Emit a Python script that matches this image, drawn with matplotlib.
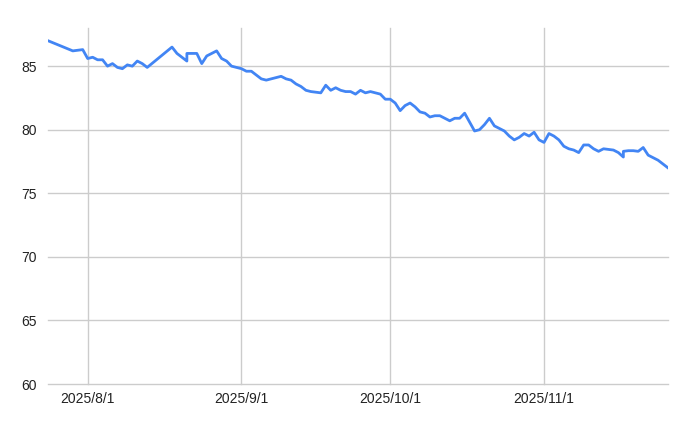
import matplotlib
matplotlib.use("Agg")
import matplotlib.pyplot as plt
import pandas as pd

plt.rcParams['font.family'] = ['Liberation Sans', 'DejaVu Sans']

dates = [
    "2025-07-24", "2025-07-29", "2025-07-30", "2025-07-31",
    "2025-08-01", "2025-08-02", "2025-08-03", "2025-08-04", "2025-08-05",
    "2025-08-06", "2025-08-07", "2025-08-08", "2025-08-09", "2025-08-10",
    "2025-08-11", "2025-08-12", "2025-08-13", "2025-08-18", "2025-08-19",
    "2025-08-20", "2025-08-21", "2025-08-21", "2025-08-22", "2025-08-23",
    "2025-08-24", "2025-08-25", "2025-08-26", "2025-08-27", "2025-08-28",
    "2025-08-29", "2025-08-30", "2025-08-31",
    "2025-09-01", "2025-09-02", "2025-09-03", "2025-09-04", "2025-09-05",
    "2025-09-06", "2025-09-07", "2025-09-08", "2025-09-09", "2025-09-10",
    "2025-09-11", "2025-09-12", "2025-09-13", "2025-09-14", "2025-09-15",
    "2025-09-16", "2025-09-17", "2025-09-18", "2025-09-19", "2025-09-20",
    "2025-09-21", "2025-09-22", "2025-09-23", "2025-09-24", "2025-09-25",
    "2025-09-26", "2025-09-27", "2025-09-28", "2025-09-29", "2025-09-30",
    "2025-10-01", "2025-10-02", "2025-10-03", "2025-10-04", "2025-10-05",
    "2025-10-06", "2025-10-07", "2025-10-08", "2025-10-09", "2025-10-10",
    "2025-10-11", "2025-10-12", "2025-10-13", "2025-10-14", "2025-10-15",
    "2025-10-16", "2025-10-17", "2025-10-18", "2025-10-19", "2025-10-20",
    "2025-10-21", "2025-10-22", "2025-10-23", "2025-10-24", "2025-10-25",
    "2025-10-26", "2025-10-27", "2025-10-28", "2025-10-29", "2025-10-30",
    "2025-10-31",
    "2025-11-01", "2025-11-02", "2025-11-03", "2025-11-04", "2025-11-05",
    "2025-11-06", "2025-11-07", "2025-11-08", "2025-11-09", "2025-11-10",
    "2025-11-11", "2025-11-12", "2025-11-13", "2025-11-14", "2025-11-15",
    "2025-11-16", "2025-11-17", "2025-11-17", "2025-11-18", "2025-11-19",
    "2025-11-20", "2025-11-21", "2025-11-22", "2025-11-23", "2025-11-24",
    "2025-11-25", "2025-11-26",
]

values = [
    87.0, 86.2, 86.25, 86.3,
    85.6, 85.7, 85.5, 85.5, 85.0,
    85.2, 84.9, 84.8, 85.1, 85.0,
    85.4, 85.2, 84.9, 86.5, 86.0,
    85.7, 85.4, 86.0, 86.0, 86.0,
    85.2, 85.8, 86.0, 86.2, 85.6,
    85.4, 85.0, 84.9,
    84.8, 84.6, 84.6, 84.3, 84.0,
    83.9, 84.0, 84.1, 84.2, 84.0,
    83.9, 83.6, 83.4, 83.1, 83.0,
    82.95, 82.9, 83.5, 83.1, 83.3,
    83.1, 83.0, 83.0, 82.8, 83.1,
    82.9, 83.0, 82.9, 82.8, 82.4,
    82.4, 82.1, 81.5, 81.9, 82.1,
    81.8, 81.4, 81.3, 81.0, 81.1,
    81.1, 80.9, 80.7, 80.9, 80.9,
    81.3, 80.6, 79.9, 80.0, 80.4,
    80.9, 80.3, 80.1, 79.9, 79.5,
    79.2, 79.4, 79.7, 79.5, 79.8,
    79.2,
    79.0, 79.7, 79.5, 79.2, 78.7,
    78.5, 78.4, 78.2, 78.8, 78.8,
    78.5, 78.3, 78.5, 78.45, 78.4,
    78.2, 77.85, 78.3, 78.35, 78.35,
    78.3, 78.6, 78.0, 77.8, 77.6,
    77.3, 77.0,
]

month_ticks = ["2025-08-01", "2025-09-01", "2025-10-01", "2025-11-01"]
tick_labels = ["2025/8/1", "2025/9/1", "2025/10/1", "2025/11/1"]
yticks = [60, 65, 70, 75, 80, 85]

x = pd.to_datetime(dates)

fig = plt.figure(figsize=(6.89, 4.26), dpi=100)
ax = fig.add_axes([48/689, 42/426, 620/689, 356/426])

ax.plot(x, values, color="#4285F4", linewidth=2, solid_joinstyle="round")

ax.set_xlim(pd.Timestamp("2025-07-24"), pd.Timestamp("2025-11-26"))
ax.set_ylim(60, 88)

ax.set_xticks(pd.to_datetime(month_ticks))
ax.set_xticklabels(tick_labels)
ax.set_yticks(yticks)
ax.set_yticklabels([str(v) for v in yticks])

ax.grid(True, color="#cccccc", linewidth=1)
for gl in ax.get_ygridlines() + ax.get_xgridlines():
    gl.set_clip_on(False)
ax.set_axisbelow(True)
for s in ax.spines.values():
    s.set_visible(False)
ax.tick_params(length=0, labelsize=10, colors="#222222")
ax.tick_params(axis="y", pad=8)
ax.tick_params(axis="x", pad=6)

fig.savefig("out.png", dpi=100)
